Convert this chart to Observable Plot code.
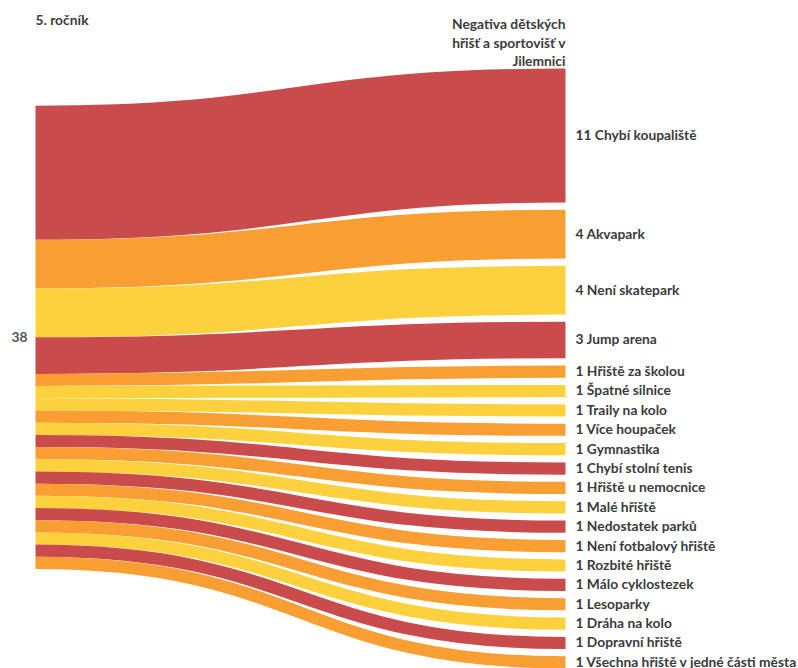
<!DOCTYPE html>
<html>
<head>
<meta charset="utf-8">
<script src="https://cdn.jsdelivr.net/npm/d3@7"></script>
<script src="https://cdn.jsdelivr.net/npm/@observablehq/plot@0.6"></script>
<style>
  html, body { margin: 0; padding: 0; background: #fff; }
  #chart svg { display: block; }
</style>
</head>
<body>
<div id="chart"></div>
<script>
const sourceName = "5. ročník";
const targetHeader = "Negativa dětských\nhřišť a sportovišť v\nJilemnici";
const targets = [
  "Chybí koupaliště", "Akvapark", "Není skatepark", "Jump arena",
  "Hřiště za školou", "Špatné silnice", "Traily na kolo", "Více houpaček",
  "Gymnastika", "Chybí stolní tenis", "Hřiště u nemocnice", "Malé hřiště",
  "Nedostatek parků", "Není fotbalový hřiště", "Rozbité hřiště", "Málo cyklostezek",
  "Lesoparky", "Dráha na kolo", "Dopravní hřiště", "Všechna hřiště v jedné části města"
];
const values = [11, 4, 4, 3, 1, 1, 1, 1, 1, 1, 1, 1, 1, 1, 1, 1, 1, 1, 1, 1];

const RED = "#ca4b4c", ORANGE = "#f99e33", YELLOW = "#fdd13d";
const colorRange = [RED, ORANGE, YELLOW, RED, ORANGE, YELLOW, YELLOW, ORANGE, YELLOW, RED,
                    ORANGE, YELLOW, RED, ORANGE, YELLOW, RED, ORANGE, YELLOW, RED, ORANGE];

// layout parameters (in value units)
const gapU = 0.59;       // gap between target nodes
const leftOffset = 3.05; // offset of the source node from the top

const total = d3.sum(values);
const D = total + (targets.length - 1) * gapU;
const W = 798, H = 668, mTop = 68, mBottom = 0, mLeft = 35, mRight = 233;
const pxPerUnit = (H - mTop - mBottom) / D;

let cum = 0;
const rows = targets.map((t, i) => {
  const v = values[i];
  const s0 = leftOffset + cum;
  const t0 = cum + i * gapU;
  cum += v;
  return { target: t, value: v, ys: s0 + v / 2, yt: t0 + v / 2, label: `${v} ${t}` };
});

const chart = Plot.plot({
  width: W, height: H,
  marginTop: mTop, marginBottom: mBottom, marginLeft: mLeft, marginRight: mRight,
  x: { domain: [0, 1], axis: null },
  y: { domain: [0, D], reverse: true, axis: null },
  color: { domain: targets, range: colorRange },
  style: { fontFamily: "Lato, 'Open Sans', sans-serif", background: "#fff", overflow: "visible" },
  marks: [
    Plot.link(rows, {
      x1: () => 0, x2: () => 1, y1: "ys", y2: "yt",
      stroke: "target", strokeWidth: d => d.value * pxPerUnit,
      curve: "bump-x", strokeLinecap: "butt"
    }),
    Plot.text(rows, {
      x: () => 1, y: "yt", text: "label", dx: 10, textAnchor: "start",
      fontSize: 13.8, fontWeight: "bold", fill: "#3b3b3b"
    }),
    Plot.text([String(total)], {
      x: () => 0, y: () => leftOffset + total / 2, text: d => d, dx: -8, textAnchor: "end",
      fontSize: 13.8, fontWeight: "bold", fill: "#555"
    }),
    Plot.text([sourceName], {
      frameAnchor: "top-left", textAnchor: "start", lineAnchor: "top", dy: -53,
      fontSize: 13.8, fontWeight: "bold", fill: "#3b3b3b"
    }),
    Plot.text([targetHeader], {
      frameAnchor: "top-right", textAnchor: "end", lineAnchor: "top", dy: -53,
      lineHeight: 1.36, fontSize: 13.8, fontWeight: "bold", fill: "#3b3b3b"
    })
  ]
});
document.getElementById("chart").appendChild(chart);
</script>
</body>
</html>
